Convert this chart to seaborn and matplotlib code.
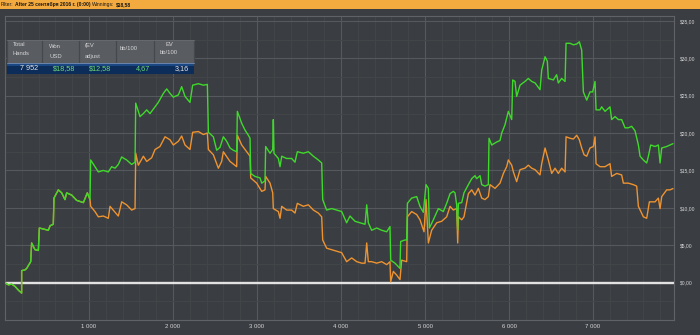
import matplotlib
matplotlib.use("Agg")
import matplotlib.pyplot as plt
import seaborn as sns
import pandas as pd
from matplotlib.ticker import MultipleLocator, FixedLocator, FuncFormatter
from matplotlib import font_manager
from matplotlib.patches import Rectangle
from matplotlib.transforms import Bbox, TransformedBbox

# ---------------- data ----------------
won_hands = [0, 40, 79, 119, 159, 198, 198, 238, 258, 306, 317, 357, 397, 409, 516, 536, 575, 583,
             635, 675, 714, 734, 794, 853, 933, 980, 1012, 1020, 1071, 1111, 1171, 1230, 1270, 1310,
             1349, 1389, 1448, 1508, 1548, 1556, 1607, 1647, 1687, 1726, 1786, 1825, 1885, 1925, 1964,
             2004, 2064, 2103, 2143, 2202, 2234, 2302, 2361, 2409, 2421, 2480, 2520, 2560, 2599, 2639,
             2679, 2718, 2758, 2766, 2818, 2857, 2897, 2917, 2925, 2976, 3036, 3056, 3095, 3103, 3155,
             3187, 3194, 3202, 3254, 3274, 3294, 3353, 3413, 3452, 3480, 3552, 3611, 3671, 3730, 3770,
             3782, 3829, 3889, 3948, 4008, 4067, 4107, 4167, 4226, 4286, 4306, 4325, 4365, 4425, 4484,
             4544, 4583, 4591, 4643, 4702, 4710, 4762, 4782, 4790, 4841, 4901, 4940, 4980, 5012, 5040,
             5052, 5099, 5159, 5218, 5258, 5298, 5337, 5357, 5377, 5389, 5397, 5437, 5464, 5516, 5556,
             5595, 5615, 5655, 5675, 5714, 5754, 5762, 5794, 5853, 5893, 5913, 5952, 5992, 6032, 6044,
             6071, 6091, 6131, 6190, 6230, 6270, 6310, 6369, 6389, 6429, 6456, 6468, 6528, 6567, 6587,
             6627, 6667, 6679, 6726, 6766, 6806, 6837, 6865, 6885, 6925, 6964, 6996, 7024, 7036, 7083,
             7103, 7143, 7202, 7222, 7262, 7302, 7341, 7381, 7421, 7460, 7500, 7540, 7560, 7599, 7639,
             7659, 7687, 7738, 7778, 7798, 7818, 7877, 7917, 7952]
won_usd = [0.0, -0.3, -0.2, -0.5, -1.0, -1.4, 1.6, 1.7, 1.9, 2.8, 5.3, 4.4, 4.3, 7.3, 7.0, 7.6, 7.8, 11.3,
           12.4, 12.0, 11.1, 12.0, 11.7, 11.0, 10.7, 12.0, 11.1, 16.4, 15.5, 14.8, 15.0, 14.8, 15.5, 15.3,
           15.8, 16.8, 16.4, 15.8, 16.1, 24.0, 22.2, 22.6, 23.1, 22.6, 23.5, 24.1, 25.3, 25.9, 25.3,
           24.8, 25.1, 26.2, 24.9, 24.1, 26.4, 26.6, 26.4, 26.5, 20.1, 19.5, 17.7, 18.1, 19.5, 18.9,
           18.0, 17.7, 17.5, 22.9, 21.3, 20.4, 19.7, 19.3, 14.6, 14.2, 14.0, 13.3, 13.6, 18.2, 17.3,
           17.8, 21.8, 17.3, 16.6, 15.5, 16.9, 16.6, 16.6, 16.1, 17.5, 17.3, 17.5, 16.9, 16.4, 16.0,
           11.1, 9.7, 9.9, 9.7, 9.5, 8.0, 8.9, 8.2, 8.0, 7.8, 10.4, 8.0, 7.0, 7.3, 7.0,
           6.8, 7.5, 3.0, 2.6, 1.9, 5.5, 5.7, 5.7, 10.6, 11.3, 11.5, 10.2, 9.4, 13.1, 12.6,
           7.3, 8.4, 9.9, 9.5, 10.6, 11.9, 12.2, 12.0, 10.4, 7.0, 10.6, 10.7, 12.0, 13.1, 13.9,
           14.3, 13.9, 14.3, 13.1, 12.9, 13.1, 19.3, 18.4, 18.8, 19.0, 20.0, 21.1, 22.9, 21.8, 27.1,
           26.9, 24.9, 26.4, 26.9, 27.3, 26.9, 26.7, 25.8, 28.4, 30.2, 29.6, 27.3, 27.1, 27.8, 26.7,
           27.3, 26.9, 32.0, 32.0, 31.8, 31.9, 32.2, 31.1, 25.5, 24.4, 25.5, 25.5, 26.9, 23.1, 23.1,
           23.5, 22.9, 23.5, 21.8, 22.2, 21.8, 21.8, 20.7, 20.7, 20.9, 20.3, 18.4, 16.9, 16.4, 16.0,
           16.9, 18.4, 18.2, 18.4, 16.0, 18.0, 18.2, 18.4, 18.58]

ev_hands = [0, 40, 79, 119, 159, 198, 198, 238, 258, 306, 317, 357, 397, 409, 516, 536, 575, 583,
            635, 675, 714, 734, 794, 853, 933, 980, 1012, 1020, 1071, 1111, 1171, 1230, 1250, 1310,
            1349, 1389, 1448, 1508, 1548, 1556, 1587, 1647, 1687, 1746, 1786, 1845, 1905, 1964, 2004,
            2064, 2103, 2143, 2202, 2234, 2302, 2361, 2409, 2421, 2480, 2540, 2579, 2599, 2679, 2758,
            2766, 2818, 2877, 2917, 2925, 2996, 3056, 3095, 3103, 3155, 3187, 3194, 3254, 3274, 3294,
            3353, 3413, 3452, 3480, 3552, 3611, 3671, 3730, 3770, 3782, 3829, 3889, 3948, 4008, 4067,
            4127, 4187, 4246, 4286, 4306, 4325, 4365, 4425, 4484, 4544, 4583, 4591, 4623, 4663, 4702,
            4722, 4782, 4790, 4841, 4901, 4940, 4988, 5012, 5040, 5079, 5139, 5198, 5258, 5298, 5337,
            5377, 5389, 5397, 5437, 5464, 5516, 5556, 5595, 5635, 5675, 5714, 5754, 5774, 5833, 5893,
            5933, 5972, 5992, 6032, 6052, 6091, 6131, 6190, 6230, 6270, 6310, 6369, 6389, 6429, 6468,
            6508, 6548, 6587, 6627, 6667, 6679, 6726, 6766, 6806, 6837, 6865, 6893, 6925, 6964, 7004,
            7024, 7036, 7083, 7143, 7202, 7222, 7282, 7341, 7361, 7421, 7480, 7520, 7540, 7599, 7639,
            7671, 7738, 7778, 7798, 7818, 7877, 7917, 7952]
ev_usd = [0.0, -0.3, -0.2, -0.5, -1.0, -1.4, 1.6, 1.7, 1.9, 2.8, 5.3, 4.4, 4.3, 7.3, 7.0, 7.6, 7.8, 11.3,
          12.4, 12.0, 11.1, 12.0, 11.7, 11.0, 10.7, 12.0, 11.1, 10.2, 9.5, 8.8, 8.9, 8.6, 10.2, 9.4,
          8.9, 10.8, 10.4, 9.7, 9.9, 17.3, 15.7, 16.9, 16.2, 16.7, 17.8, 18.2, 19.5, 19.1, 18.4,
          18.9, 19.6, 18.4, 17.8, 20.1, 20.2, 19.8, 20.0, 17.8, 17.1, 15.3, 16.2, 17.5, 16.2, 15.5,
          19.7, 18.4, 17.5, 16.9, 14.0, 13.3, 12.2, 12.4, 14.2, 13.3, 12.0, 9.9, 9.5, 8.6, 10.2,
          9.7, 9.7, 9.3, 10.6, 10.2, 10.4, 9.7, 9.3, 8.8, 5.7, 4.6, 4.4, 4.2, 4.0, 2.8,
          3.3, 2.8, 2.6, 2.6, 5.3, 2.8, 2.8, 2.6, 2.8, 2.4, 2.8, 0.1, 1.5, 1.0, 0.4,
          3.0, 2.8, 8.8, 9.5, 9.1, 8.4, 6.8, 11.1, 5.3, 7.0, 8.0, 8.2, 8.8, 10.2, 9.7,
          9.9, 5.3, 8.8, 8.4, 8.8, 11.9, 12.4, 11.7, 12.6, 11.3, 11.1, 11.5, 13.1, 12.6, 13.3,
          14.6, 15.5, 16.4, 15.7, 14.8, 13.5, 15.1, 15.3, 15.7, 15.3, 15.1, 14.4, 15.9, 18.0, 16.4,
          14.6, 15.3, 14.6, 15.3, 14.8, 19.5, 19.3, 19.2, 19.7, 19.1, 18.0, 17.1, 16.9, 18.0, 18.2,
          19.5, 15.9, 15.5, 15.5, 15.9, 14.2, 14.6, 14.4, 13.3, 13.3, 13.1, 12.9, 10.2, 8.8, 8.6,
          10.8, 10.8, 11.3, 9.9, 11.5, 12.4, 12.4, 12.58]

x_tick_values = [1000, 2000, 3000, 4000, 5000, 6000, 7000]
y_tick_values = [0, 5, 10, 15, 20, 25, 30, 35]

table_headers = [["Total", "Hands"], ["Net", "Won", "USD"], ["USD", "(EV", "adjust"],
                 ["bb/100"], ["EV", "bb/100"]]
table_values = ["7 952", "$18,58", "$12,58", "4,67", "3,16"]

filter_parts = [("Filter:", "normal"), ("After 25 сентября 2016 г. (0:00)", "bold"),
                ("Winnings:", "normal"), ("$18,58", "bold")]

# ---------------- style ----------------
BG = "#3a3d41"
GREEN = "#3fd92b"
ORANGE = "#ee9330"
TXT = "#d4d5d7"

sns.set_style("dark", {"axes.facecolor": BG, "figure.facecolor": BG})
avail = {f.name for f in font_manager.fontManager.ttflist}
NARROW = "Liberation Sans Narrow" if "Liberation Sans Narrow" in avail else "Liberation Sans"
plt.rcParams["font.family"] = [NARROW, "DejaVu Sans"]

W, H = 700, 335
fig = plt.figure(figsize=(W / 100, H / 100), dpi=100, facecolor=BG)
renderer = fig.canvas.get_renderer()


def text_width(txt, size, weight="normal"):
    t = fig.text(0, 0, txt, fontsize=size, fontweight=weight)
    w = t.get_window_extent(renderer).width
    t.remove()
    return w


def fit_size(txt, target_px, weight="normal"):
    return 10.0 * target_px / text_width(txt, 10.0, weight)


ax = fig.add_axes([5 / W, (H - 320) / H, 669 / W, 304 / H])
ax.set_facecolor(BG)

df = pd.concat([
    pd.DataFrame({"hands": ev_hands, "usd": ev_usd, "series": "EV"}),
    pd.DataFrame({"hands": won_hands, "usd": won_usd, "series": "Won"}),
], ignore_index=True)

ax.axhline(0, color="#e2e2e2", lw=1.7, zorder=2)
sns.lineplot(data=df, x="hands", y="usd", hue="series", hue_order=["EV", "Won"],
             palette={"EV": ORANGE, "Won": GREEN}, estimator=None, sort=False,
             linewidth=1.0, legend=False, ax=ax, zorder=3)

ax.set_xlim(0, 7964)
ax.set_ylim(-5, 35.65)
ax.xaxis.set_major_locator(FixedLocator(x_tick_values))
ax.xaxis.set_minor_locator(MultipleLocator(200))
ax.yaxis.set_major_locator(FixedLocator(y_tick_values))
ax.yaxis.set_minor_locator(MultipleLocator(2.5))
ax.xaxis.set_major_formatter(FuncFormatter(lambda v, p: f"{int(v) // 1000} {int(v) % 1000:03d}"))
ax.yaxis.set_major_formatter(FuncFormatter(lambda v, p: f"${int(v)},00"))
ax.yaxis.tick_right()
ax.grid(which="major", color="#55595e", lw=0.8, zorder=0)
ax.grid(which="minor", color="#434649", lw=0.7, zorder=0)
ax.set_axisbelow(True)
ysize = fit_size("$35,00", 15.5)
xsize = fit_size("1 000", 15.0)
ax.tick_params(which="both", length=0, colors=TXT)
ax.tick_params(axis="y", pad=4.3, labelsize=ysize)
ax.tick_params(axis="x", pad=2.8, labelsize=xsize)
ax.set_xlabel("")
ax.set_ylabel("")
for s in ax.spines.values():
    s.set_visible(True)
    s.set_color("#5f6368")
    s.set_linewidth(0.8)

# ---------------- overlay: filter bar & table ----------------
ov = fig.add_axes([0, 0, 1, 1], zorder=10)
ov.set_xlim(0, W)
ov.set_ylim(H, 0)
ov.axis("off")
ov.patch.set_alpha(0)

ov.add_patch(Rectangle((0, 0), W, 8.5, color="#f3aa3e", lw=0))
full = " ".join(p for p, _ in filter_parts)
bsize = fit_size(full, 131.0) * 0.97
space = text_width("a b", bsize) - text_width("ab", bsize)
x = 1.0
for t, wgt in filter_parts:
    ov.text(x, 4.7, t, fontsize=bsize, fontweight=wgt, color="#161616", va="center", ha="left")
    x += text_width(t, bsize, wgt) + space

cols = [7.3, 42.3, 79, 115.7, 154.3, 194]
ov.add_patch(Rectangle((cols[0], 40), cols[-1] - cols[0], 22.5, facecolor="#595c60",
                       edgecolor="none"))
for c in cols:
    ov.plot([c, c], [40, 62.5], color="#45484c", lw=0.9)
ov.plot([cols[0], cols[-1]], [40, 40], color="#66696d", lw=0.7)
ov.add_patch(Rectangle((cols[0], 62.5), cols[-1] - cols[0], 11.5, facecolor="#0c2c5a",
                       edgecolor="none"))
ov.add_patch(Rectangle((cols[0], 62.5), cols[-1] - cols[0], 3.0, facecolor="#1b4882",
                       edgecolor="none"))
ov.plot([cols[0], cols[-1]], [62.6, 62.6], color="#7a8fb0", lw=0.6)

hsize = fit_size("Hands", 17.0)
clip = TransformedBbox(Bbox([[0, 37.6], [W, 62.5]]), ov.transData)
hdr_layout = [
    ([44.0, 53.5], 12.5, "left"),
    ([36.8, 46.7, 57.0], 49.0, "left"),
    ([35.4, 45.8, 56.6], 84.5, "left"),
    ([48.7], 119.3, "left"),
    ([44.3, 52.8], 169.0, "center"),
]
for lines, (ys, xx, ha) in zip(table_headers, hdr_layout):
    for t, y in zip(lines, ys):
        tt = ov.text(xx, y, t, fontsize=hsize, color=TXT, va="center", ha=ha)
        tt.set_clip_box(clip)
        tt.set_clip_on(True)

vsize = fit_size("$18,58", 22.0)
val_right = [37.7, 75.0, 111.7, 150.0, 188.7]
val_colors = ["#e6e6e6", "#6fdc74", "#6fdc74", "#6fdc74", "#e6e6e6"]
for t, xx, c in zip(table_values, val_right, val_colors):
    ov.text(xx, 68.6, t, fontsize=vsize, color=c, va="center", ha="right")

fig.savefig("out.png", dpi=100, facecolor=BG)
